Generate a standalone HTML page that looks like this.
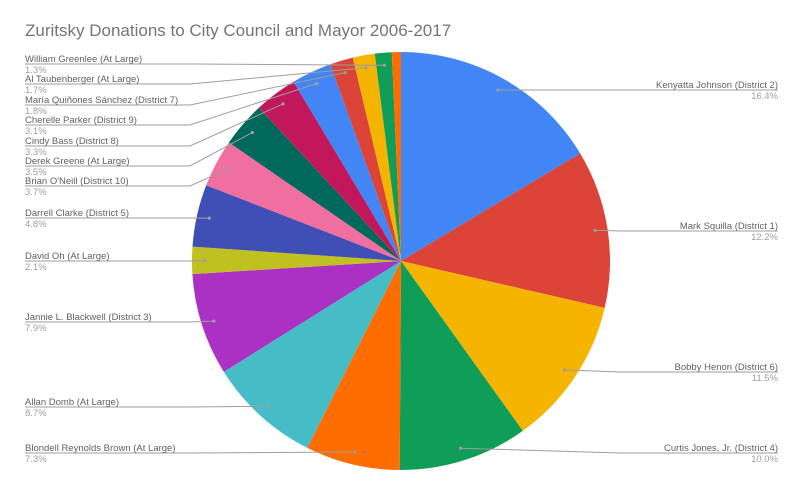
<!DOCTYPE html>
<html><head><meta charset="utf-8"><style>
body{margin:0;background:#fff;font-family:"Liberation Sans",sans-serif;}
svg text{font-family:"Liberation Sans",sans-serif;}
</style></head><body>
<svg id="chart" width="802" height="494" xmlns="http://www.w3.org/2000/svg">
<rect width="802" height="494" fill="#fff"/>
<text x="25" y="36" font-size="17" fill="#757575">Zuritsky Donations to City Council and Mayor 2006-2017</text>
<g id="slices"></g><g id="labels"></g>
</svg>
<script>
const categories=["Kenyatta Johnson (District 2)","Mark Squilla (District 1)","Bobby Henon (District 6)","Curtis Jones, Jr. (District 4)","Blondell Reynolds Brown (At Large)","Allan Domb (At Large)","Jannie L. Blackwell (District 3)","David Oh (At Large)","Darrell Clarke (District 5)","Brian O'Neill (District 10)","Derek Greene (At Large)","Cindy Bass (District 8)","Cherelle Parker (District 9)","María Quiñones Sánchez (District 7)","Al Taubenberger (At Large)","William Greenlee (At Large)","Other"];
const values=[16.4,12.2,11.5,10.0,7.3,8.7,7.9,2.1,4.8,3.7,3.5,3.3,3.1,1.8,1.7,1.3,0.7];
const pctLabels=["16.4%","12.2%","11.5%","10.0%","7.3%","8.7%","7.9%","2.1%","4.8%","3.7%","3.5%","3.3%","3.1%","1.8%","1.7%","1.3%",""];
const colors=["#4285f4","#db4437","#f4b400","#0f9d58","#ff6d00","#46bdc6","#ab30c4","#c0c021","#3f4fb5","#f06ea0","#00695c","#c2185b","#4285f4","#db4437","#f4b400","#0f9d58","#ff6d00"];
const labelLineY=[90,231,372,453,453,407,322,261,218,186,166,146,125,105,84,64,null];
const NS="http://www.w3.org/2000/svg";
const cx=401,cy=261,r=209;
const total=values.reduce((a,b)=>a+b,0);
function pt(a,rad){return [cx+rad*Math.sin(a),cy-rad*Math.cos(a)];}
const sg=document.getElementById('slices'),lg=document.getElementById('labels');
let acc=0;
values.forEach((v,i)=>{
  const a0=acc/total*2*Math.PI;acc+=v;const a1=acc/total*2*Math.PI;
  const p0=pt(a0,r),p1=pt(a1,r);
  const path=document.createElementNS(NS,'path');
  path.setAttribute('d',`M${cx},${cy}L${p0[0]},${p0[1]}A${r},${r} 0 ${a1-a0>Math.PI?1:0} 1 ${p1[0]},${p1[1]}Z`);
  path.setAttribute('fill',colors[i]);
  
  
  sg.appendChild(path);
  if(labelLineY[i]==null)return;
  const am=(a0+a1)/2,d=pt(am,r*0.94),right=Math.sin(am)>0,ly=labelLineY[i];
  const line=document.createElementNS(NS,'polyline');
  const pts=right?`${d[0]},${d[1]} ${Math.max(d[0],620)},${ly} 778,${ly}`:`${d[0]},${d[1]} 190,${ly} 25,${ly}`;
  line.setAttribute('points',pts);line.setAttribute('fill','none');line.setAttribute('stroke','#9e9e9e');line.setAttribute('stroke-width','1');
  
  
  lg.appendChild(line);
  const dot=document.createElementNS(NS,'circle');
  dot.setAttribute('cx',d[0]);dot.setAttribute('cy',d[1]);dot.setAttribute('r',1.6);dot.setAttribute('fill','#9e9e9e');
  
  
  lg.appendChild(dot);
  const t=document.createElementNS(NS,'text');
  t.setAttribute('x',right?778:25);t.setAttribute('y',ly-2);t.setAttribute('font-size','9.5');t.setAttribute('fill','#616161');
  t.setAttribute('text-anchor',right?'end':'start');t.textContent=categories[i];
  
  
  lg.appendChild(t);
  const p=document.createElementNS(NS,'text');
  p.setAttribute('x',right?778:25);p.setAttribute('y',ly+9);p.setAttribute('font-size','9.5');p.setAttribute('fill','#9e9e9e');
  p.setAttribute('text-anchor',right?'end':'start');p.textContent=pctLabels[i];
  
  
  lg.appendChild(p);
});
</script>
</body></html>
